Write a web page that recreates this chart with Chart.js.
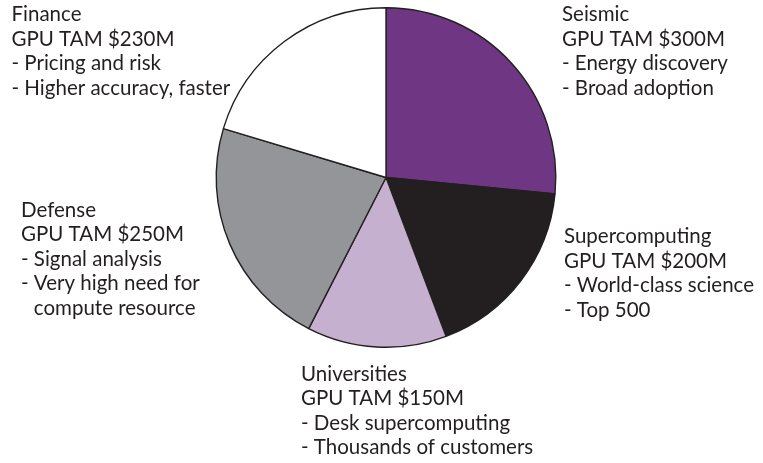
<!DOCTYPE html>
<html>
<head>
<meta charset="utf-8">
<script src="https://cdn.jsdelivr.net/npm/chart.js@4/dist/chart.umd.min.js"></script>
<style>
  html, body { margin: 0; padding: 0; background: #fff; }
  #wrap { width: 763px; height: 463px; position: relative; }
</style>
</head>
<body>
<div id="wrap"><canvas id="pie"></canvas></div>
<script>
// Data
const segments = ['Seismic', 'Supercomputing', 'Universities', 'Defense', 'Finance'];
const tamValues = [300, 200, 150, 250, 230]; // $M
const notes = [
    ['- Energy discovery', '- Broad adoption'],
    ['- World-class science', '- Top 500'],
    ['- Desk supercomputing', '- Thousands of customers'],
    ['- Signal analysis', '- Very high need for', '  compute resource'],
    ['- Pricing and risk', '- Higher accuracy, faster']
];
const sliceColors = ['#6f3683', '#231f20', '#c5b1cf', '#939598', '#ffffff'];

// baseline of the first line of each text block
const labelSpots = [
    { x: 562, y: 21 },
    { x: 564, y: 243 },
    { x: 301, y: 380.5 },
    { x: 21, y: 216.5 },
    { x: 11.5, y: 21 }
];
const linePitch = 24.5;

const labelPlugin = {
    id: 'sliceLabels',
    afterDraw(chart) {
        const ctx = chart.ctx;
        ctx.save();
        ctx.fillStyle = '#231f20';
        ctx.font = '20.5px Lato';
        ctx.textBaseline = 'alphabetic';
        ctx.textAlign = 'left';
        segments.forEach((name, i) => {
            const lines = [name, 'GPU TAM $' + tamValues[i] + 'M'].concat(notes[i]);
            const spot = labelSpots[i];
            lines.forEach((line, j) => {
                let x = spot.x;
                let txt = line;
                if (line.startsWith('  ')) {
                    txt = line.trim();
                    x += ctx.measureText('- ').width;
                }
                ctx.fillText(txt, x, spot.y + j * linePitch);
            });
        });
        ctx.restore();
    }
};

const ctx = document.getElementById('pie').getContext('2d');
new Chart(ctx, {
    type: 'pie',
    data: {
        labels: segments,
        datasets: [{
            data: tamValues,
            backgroundColor: sliceColors,
            borderColor: '#231f20',
            borderWidth: 1.4
        }]
    },
    options: {
        responsive: true,
        maintainAspectRatio: false,
        animation: false,
        layout: { padding: { top: 7, bottom: 115, left: 9, right: 0 } },
        plugins: {
            legend: { display: false },
            tooltip: { enabled: false }
        }
    },
    plugins: [labelPlugin]
});
</script>
</body>
</html>
